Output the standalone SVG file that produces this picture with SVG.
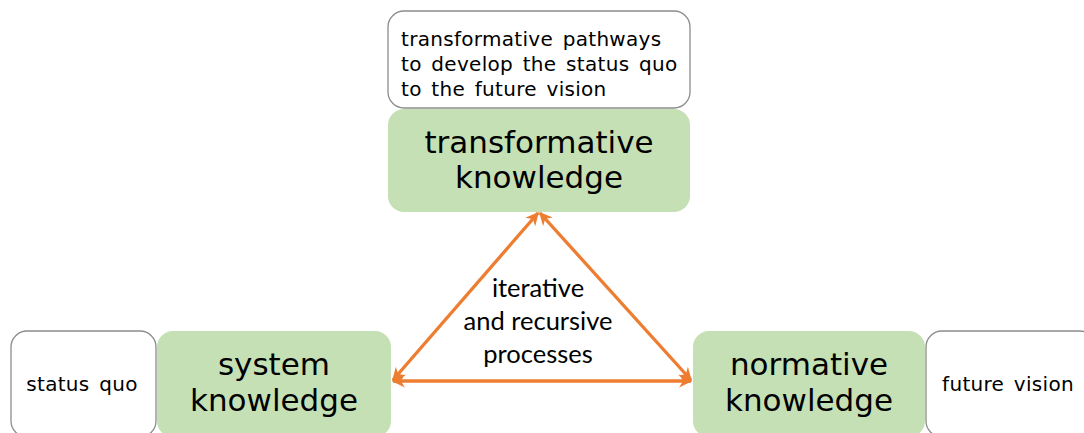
<svg xmlns="http://www.w3.org/2000/svg" width="1084" height="433" viewBox="0 0 1084 433">
<defs>
<style>
.note{fill:#ffffff;stroke:#8c8c8c;stroke-width:1.3}
.green{fill:#c5e0b4}
.t{font-family:"DejaVu Sans",Verdana,sans-serif;fill:#000;text-anchor:middle}
.s{font-size:20px;word-spacing:3px;letter-spacing:0.3px}
.l{text-anchor:start}
.b{font-size:31px}
.c{font-family:Lato,"Open Sans",sans-serif;font-size:25.5px;fill:#000;text-anchor:middle}
.conn{stroke:#ed7d31;stroke-width:3.3;fill:none;marker-start:url(#ah);marker-end:url(#ah)}
</style>
<marker id="ah" viewBox="0 0 10 10" refX="9" refY="5" markerWidth="4" markerHeight="4" orient="auto-start-reverse" markerUnits="strokeWidth">
<path d="M0,0 L10,5 L0,10 L3,5 z" fill="#ed7d31"/>
</marker>
</defs>
<rect width="1084" height="433" fill="#ffffff"/>
<g id="transformative-note">
<rect class="note" x="388" y="11" width="302" height="97" rx="16"/>
<text class="t s l" x="401" y="46">transformative pathways</text>
<text class="t s l" x="401" y="71">to develop the status quo</text>
<text class="t s l" x="401" y="96">to the future vision</text>
</g>
<g id="transformative-knowledge">
<rect class="green" x="388" y="109" width="302" height="103" rx="16"/>
<text class="t b" x="539" y="153">transformative</text>
<text class="t b" x="539" y="188">knowledge</text>
</g>
<g id="status-quo">
<rect class="note" x="11" y="331" width="145" height="106" rx="16"/>
<text class="t s" x="82" y="391">status quo</text>
</g>
<g id="system-knowledge">
<rect class="green" x="157" y="331" width="234" height="106" rx="16"/>
<text class="t b" x="274" y="375">system</text>
<text class="t b" x="274" y="411">knowledge</text>
</g>
<g id="normative-knowledge">
<rect class="green" x="693" y="331" width="232" height="106" rx="16"/>
<text class="t b" x="809" y="375">normative</text>
<text class="t b" x="809" y="411">knowledge</text>
</g>
<g id="future-vision">
<rect class="note" x="926" y="331" width="170" height="106" rx="16"/>
<text class="t s" x="1008" y="391">future vision</text>
</g>
<g id="connectors">
<line class="conn" x1="393" y1="381" x2="691" y2="381"/>
<line class="conn" x1="393" y1="380" x2="538" y2="213"/>
<line class="conn" x1="540" y1="213" x2="691" y2="380"/>
</g>
<g id="center-label">
<text class="c" x="538" y="297">iterative</text>
<text class="c" x="538" y="330">and recursive</text>
<text class="c" x="538" y="363">processes</text>
</g>
</svg>
